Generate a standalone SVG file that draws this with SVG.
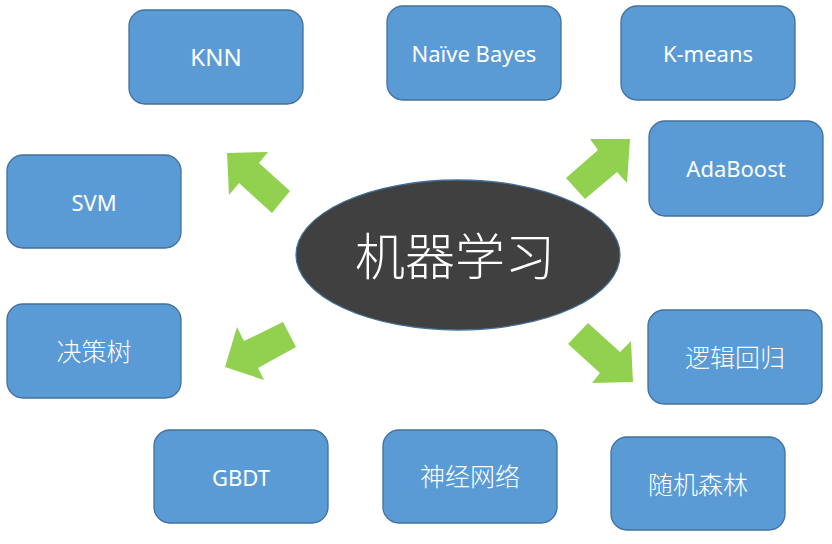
<svg xmlns="http://www.w3.org/2000/svg" width="832" height="544" viewBox="0 0 832 544">
<style>
.box{fill:#5B9BD5;stroke:#41719C;stroke-width:1.3}
.lbl{fill:#fff;font-family:"Noto Sans","Noto Sans CJK SC",sans-serif;font-size:22px;text-anchor:middle;dominant-baseline:central}
.cjk{font-family:"Noto Sans CJK SC",sans-serif;font-size:25px;font-weight:300}
.arr{fill:#92D050}
</style>
<rect width="832" height="544" fill="#fff"/>
<g id="center">
<ellipse cx="458" cy="255" rx="162" ry="75" fill="#404040" stroke="#41719C" stroke-width="1.3"/>
<text x="455" y="253" class="lbl cjk" style="font-size:50px">机器学习</text>
</g>
<g id="knn"><rect class="box" x="129" y="10" width="174" height="94" rx="16"/><text class="lbl" x="216" y="56" style="font-size:24px">KNN</text></g>
<g id="naive-bayes"><rect class="box" x="387" y="6" width="174" height="94" rx="16"/><text class="lbl" x="474" y="53">Naïve Bayes</text></g>
<g id="k-means"><rect class="box" x="621" y="6" width="174" height="94" rx="16"/><text class="lbl" x="708" y="53">K-means</text></g>
<g id="adaboost"><rect class="box" x="649" y="121" width="174" height="95" rx="16"/><text class="lbl" x="736" y="168">AdaBoost</text></g>
<g id="svm"><rect class="box" x="7" y="155" width="174" height="93" rx="16"/><text class="lbl" x="94" y="202">SVM</text></g>
<g id="decision-tree"><rect class="box" x="7" y="304" width="174" height="94" rx="16"/><text class="lbl cjk" x="94" y="350">决策树</text></g>
<g id="gbdt"><rect class="box" x="154" y="430" width="174" height="93" rx="16"/><text class="lbl" x="241" y="477">GBDT</text></g>
<g id="neural-network"><rect class="box" x="383" y="430" width="174" height="93" rx="16"/><text class="lbl cjk" x="470" y="475">神经网络</text></g>
<g id="random-forest"><rect class="box" x="611" y="437" width="174" height="93" rx="16"/><text class="lbl cjk" x="698" y="483">随机森林</text></g>
<g id="logistic-regression"><rect class="box" x="648" y="310" width="174" height="94" rx="16"/><text class="lbl cjk" x="735" y="356">逻辑回归</text></g>
<g id="connectors">
<polygon class="arr" points="227,153 268,152 259,163 290,191 272,213 239,183 229,195"/>
<polygon class="arr" points="225,367 237,327 244,341 283,322 296,347 258,368 264,380"/>
<polygon class="arr" points="630,139 627,183 617,172 585,199 566,178 598,150 590,139"/>
<polygon class="arr" points="633,382 592,383 600,373 568,344 588,323 620,352 631,341"/>
</g>
</svg>
